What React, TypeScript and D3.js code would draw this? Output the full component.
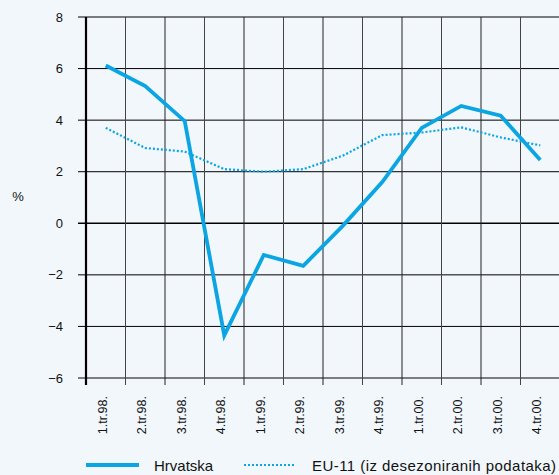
import * as d3 from "d3";

const width = 559;
const height = 475;
const margin = { top: 17, right: -1, bottom: 97, left: 86 };
const innerWidth = width - margin.left - margin.right;
const innerHeight = height - margin.top - margin.bottom;

const quarters = [
  "1.tr.98.", "2.tr.98.", "3.tr.98.", "4.tr.98.",
  "1.tr.99.", "2.tr.99.", "3.tr.99.", "4.tr.99.",
  "1.tr.00.", "2.tr.00.", "3.tr.00.", "4.tr.00.",
];
const hrvatska = [6.12, 5.32, 3.96, -4.35, -1.23, -1.65, -0.1, 1.6, 3.7, 4.55, 4.17, 2.45];
const eu11 = [3.7, 2.92, 2.78, 2.1, 2.0, 2.1, 2.62, 3.42, 3.52, 3.72, 3.33, 3.02];
const yTicks = [8, 6, 4, 2, 0, -2, -4, -6];

const blue = "#0aa5e2";
const font = "Arial, 'Liberation Sans', Helvetica, sans-serif";

export default function App() {
  const x = d3.scaleBand().domain(quarters).range([0, innerWidth]);
  const y = d3.scaleLinear().domain([-6, 8]).range([innerHeight, 0]);
  const cx = (q: string) => (x(q) ?? 0) + x.bandwidth() / 2;

  const line = d3
    .line<number>()
    .x((_, i) => cx(quarters[i]))
    .y((d) => y(d));

  const fmt = (v: number) => (v < 0 ? "\u2212" + Math.abs(v) : String(v));

  return (
    <svg
      width={width}
      height={height}
      style={{ position: "absolute", left: 0, top: 0, display: "block" }}
      fontFamily={font}
    >
      <rect width={width} height={height} fill="#f2f7fc" />
      <text x={18} y={201} textAnchor="middle" fontSize={13} fill="#111">%</text>
      <g transform={`translate(${margin.left},${margin.top})`}>
        {/* horizontal grid + y labels */}
        {yTicks.map((t) => (
          <g key={t}>
            <line
              x1={-8}
              x2={innerWidth}
              y1={y(t)}
              y2={y(t)}
              stroke={t === -6 ? "#555" : "#000"}
              strokeWidth={t === 0 || t === -6 ? 1.6 : 1}
            />
            <text
              x={-23}
              y={y(t)}
              dy="0.35em"
              textAnchor="end"
              fontSize={13}
              fill="#111"
            >
              {fmt(t)}
            </text>
          </g>
        ))}
        {/* vertical grid */}
        {quarters.map((q, i) => (
          <line
            key={q}
            x1={(x(q) ?? 0) + x.bandwidth()}
            x2={(x(q) ?? 0) + x.bandwidth()}
            y1={0}
            y2={innerHeight + 7}
            stroke={i % 2 ? "#222" : "#444"}
            strokeWidth={1}
          />
        ))}
        <line x1={0} x2={0} y1={0} y2={innerHeight + 7} stroke="#000" strokeWidth={2.2} />
        {/* x labels */}
        {quarters.map((q) => (
          <text
            key={q}
            transform={`translate(${cx(q) + 1},${innerHeight + 18}) rotate(-90)`}
            textAnchor="end"
            fontSize={12.5}
            fill="#111"
          >
            {q}
          </text>
        ))}
        <path
          d={line(eu11) ?? ""}
          fill="none"
          stroke={blue}
          strokeWidth={2.2}
          strokeDasharray="2,2"
        />
        <path
          d={line(hrvatska) ?? ""}
          fill="none"
          stroke={blue}
          strokeWidth={3.8}
          strokeLinejoin="miter"
        />
      </g>
      {/* legend */}
      <line x1={86} x2={139} y1={465} y2={465} stroke={blue} strokeWidth={4} />
      <text x={154} y={470.5} fontSize={15} fill="#111">Hrvatska</text>
      <line
        x1={244}
        x2={296}
        y1={465}
        y2={465}
        stroke={blue}
        strokeWidth={2}
        strokeDasharray="2,2"
      />
      <text x={312} y={470.5} fontSize={15} fill="#111" textLength={244} lengthAdjust="spacing">
        EU-11 (iz desezoniranih podataka)
      </text>
    </svg>
  );
}
